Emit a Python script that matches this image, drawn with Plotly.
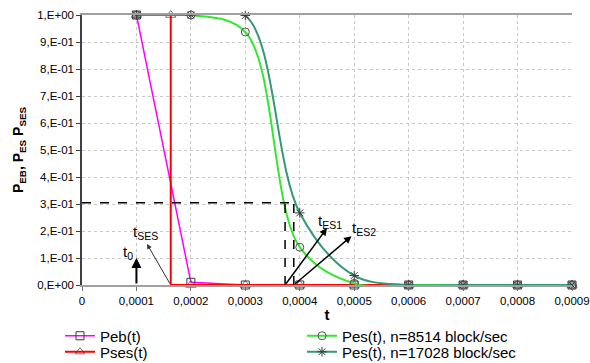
import plotly.graph_objects as go

# ---- data ----
t_grid = [0.0001, 0.0002, 0.0003, 0.0004, 0.0005, 0.0006, 0.0007, 0.0008, 0.0009]
peb = [1.0, 0.01, 0.0, 0.0, 0.0, 0.0, 0.0, 0.0, 0.0]
t_ses = [0.0001, 0.000163, 0.000163, 0.0002, 0.0003, 0.0004, 0.0005, 0.0006, 0.0007, 0.0008, 0.0009]
pses = [1.0, 1.0, 0.0, 0.0, 0.0, 0.0, 0.0, 0.0, 0.0, 0.0, 0.0]
pes_8514 = [1.0, 1.0, 0.937, 0.14, 0.006, 0.0, 0.0, 0.0, 0.0]
pes_17028 = [1.0, 1.0, 0.998, 0.267, 0.035, 0.0, 0.0, 0.0, 0.0]

x_ticks = [0, 0.0001, 0.0002, 0.0003, 0.0004, 0.0005, 0.0006, 0.0007, 0.0008, 0.0009]
x_tick_labels = ["0", "0,0001", "0,0002", "0,0003", "0,0004", "0,0005", "0,0006", "0,0007", "0,0008", "0,0009"]
y_ticks = [0, 0.1, 0.2, 0.3, 0.4, 0.5, 0.6, 0.7, 0.8, 0.9, 1.0]
y_tick_labels = ["0,E+00", "1,E-01", "2,E-01", "3,E-01", "4,E-01", "5,E-01",
                 "6,E-01", "7,E-01", "8,E-01", "9,E-01", "1,E+00"]

level = 0.305
t_0 = 0.0001
t_ses_drop = 0.000163
t_es1 = 0.000373
t_es2 = 0.000389

FONT = "Liberation Sans, Arial, sans-serif"
MK = "#3a3a3a"

fig = go.Figure()

fig.add_trace(go.Scatter(
    x=t_grid, y=peb, name="Peb(t)", mode="lines+markers", legend="legend",
    line=dict(color="#ff00ff", width=1.5),
    marker=dict(symbol="square-open", size=8, color=MK, line=dict(width=1)),
    cliponaxis=False))

ses_sizes = [9 if i != 2 else 0 for i in range(len(t_ses))]
fig.add_trace(go.Scatter(
    x=t_ses, y=pses, name="Pses(t)", mode="lines+markers", legend="legend2",
    line=dict(color="#ff0000", width=2),
    marker=dict(symbol="triangle-up-open", size=ses_sizes, color=MK, line=dict(width=1)),
    cliponaxis=False))

fig.add_trace(go.Scatter(
    x=t_grid, y=pes_8514, name="Pes(t), n=8514 block/sec", mode="lines+markers", legend="legend3",
    line=dict(color="#33e833", width=2, shape="spline", smoothing=1.0),
    marker=dict(symbol="circle-open", size=8, color="#555555", line=dict(width=1)),
    cliponaxis=False))

fig.add_trace(go.Scatter(
    x=t_grid, y=pes_17028, name="Pes(t), n=17028 block/sec", mode="lines+markers", legend="legend4",
    line=dict(color="#339977", width=2, shape="spline", smoothing=1.0),
    marker=dict(symbol="asterisk-open", size=8, color=MK, line=dict(width=1)),
    cliponaxis=False))

# dashed reference lines
dash = dict(color="black", width=1.5, dash="dash")
fig.add_shape(type="line", x0=0, x1=t_es2, y0=level, y1=level, line=dash)
fig.add_shape(type="line", x0=t_es1, x1=t_es1, y0=0, y1=level, line=dash)
fig.add_shape(type="line", x0=t_es2, x1=t_es2, y0=0, y1=level, line=dash)

# arrows (head at text end)
arrows = [
    (t_0, 0.10, t_0, 0.0, 2.0, "black"),
    (0.0001194, 0.152, t_ses_drop, 0.0, 1.0, "#333333"),
    (0.00045, 0.211, t_es1, 0.0, 1.5, "black"),
    (0.000495, 0.181, t_es2, 0.0, 1.5, "black"),
]
for hx, hy, tx, ty, w, c in arrows:
    fig.add_annotation(x=hx, y=hy, ax=tx, ay=ty, xref="x", yref="y", axref="x", ayref="y",
                       text="", showarrow=True, arrowhead=2, arrowsize=1, arrowwidth=w,
                       arrowcolor=c)

labels = [
    (0.0000845, 0.119, "t<sub>0</sub>"),
    (0.0001158, 0.193, "t<sub>SES</sub>"),
    (0.000455, 0.237, "t<sub>ES1</sub>"),
    (0.000518, 0.208, "t<sub>ES2</sub>"),
]
for x, y, txt in labels:
    fig.add_annotation(x=x, y=y, xref="x", yref="y", text=txt, showarrow=False,
                       font=dict(family=FONT, size=15, color="black"))

leg_common = dict(font=dict(family=FONT, size=15, color="black"), bgcolor="rgba(0,0,0,0)",
                  borderwidth=0, xanchor="left", yanchor="middle", itemwidth=30, visible=True)

fig.update_layout(
    width=590, height=363, autosize=False,
    showlegend=True,
    margin=dict(l=82, r=18, t=15, b=78, autoexpand=False),
    paper_bgcolor="white", plot_bgcolor="white",
    font=dict(family=FONT, color="black"),
    legend=dict(x=(60 - 82) / 490, y=(285 - 336) / 270, **leg_common),
    legend2=dict(x=(60 - 82) / 490, y=(285 - 352) / 270, **leg_common),
    legend3=dict(x=(302 - 82) / 490, y=(285 - 336) / 270, **leg_common),
    legend4=dict(x=(302 - 82) / 490, y=(285 - 352) / 270, **leg_common),
    xaxis=dict(
        range=[0, 0.0009], tickvals=x_ticks, ticktext=x_tick_labels,
        showgrid=True, gridcolor="#c8c8c8", griddash="dot", gridwidth=1,
        showline=True, linecolor="#a0a0a0", linewidth=1.5, mirror=True,
        ticks="outside", ticklen=4, tickcolor="#707070",
        tickfont=dict(family=FONT, size=11.5, color="black"),
        zeroline=False,
        title=dict(text="<b>t</b>", font=dict(family=FONT, size=15, color="black"), standoff=4),
    ),
    yaxis=dict(
        range=[0, 1], tickvals=y_ticks, ticktext=y_tick_labels,
        showgrid=True, gridcolor="#c8c8c8", griddash="dot", gridwidth=1,
        showline=True, linecolor="#404040", linewidth=1.5,
        ticks="outside", ticklen=4, tickcolor="#404040",
        tickfont=dict(family=FONT, size=11.5, color="black"),
        zeroline=False,
        title=dict(text="<b>P<sub>EB</sub>, P<sub>ES</sub> P<sub>SES</sub></b>",
                   font=dict(family=FONT, size=14, color="black"), standoff=10),
    ),
)

fig.write_html("out.html", config={"displayModeBar": False},
               post_script="document.body.style.margin='0';")
